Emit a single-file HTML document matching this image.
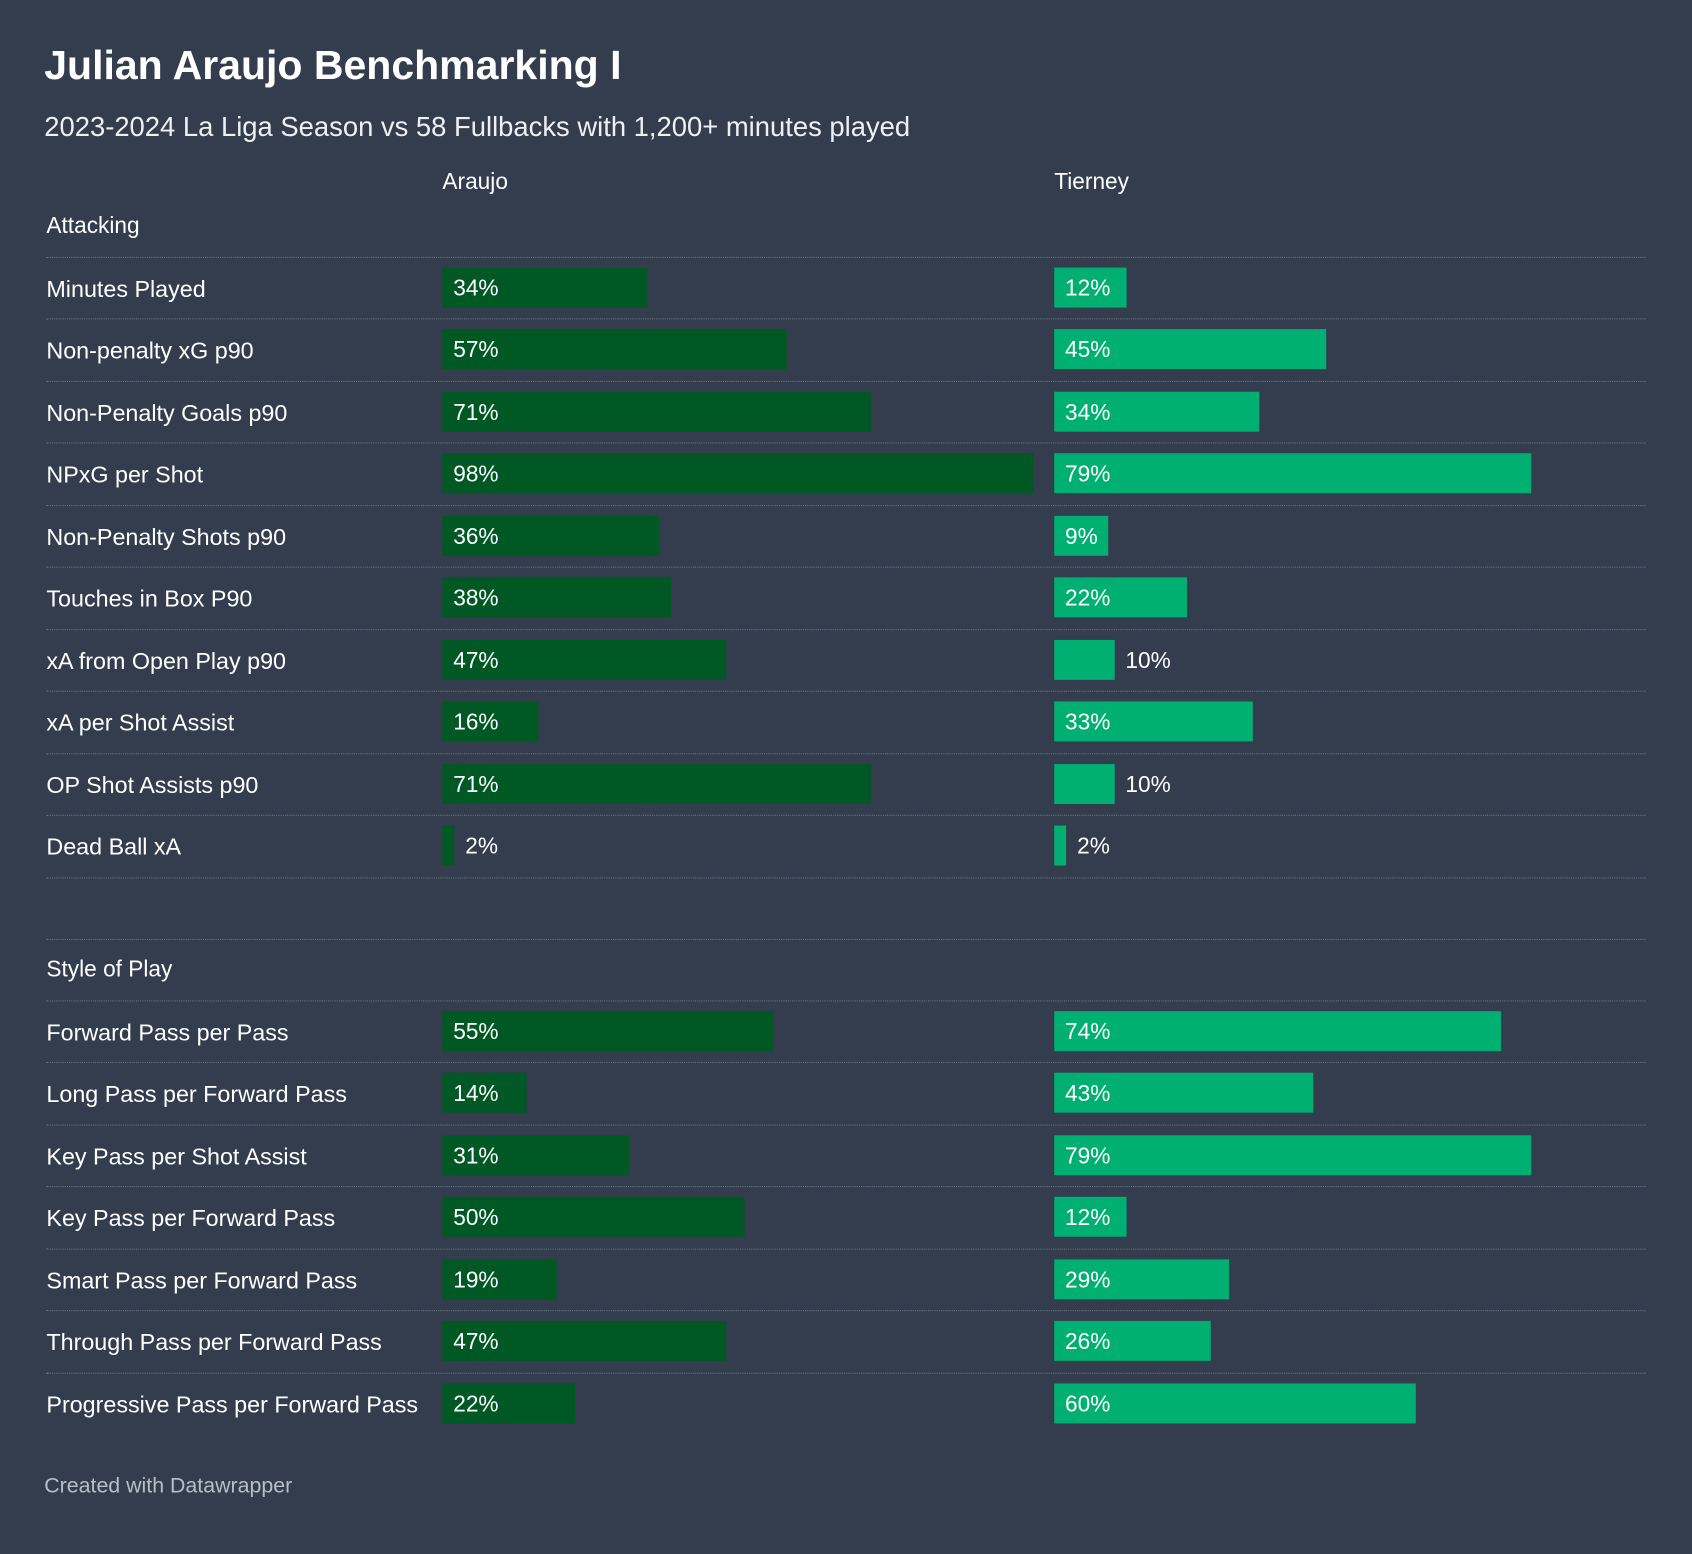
<!DOCTYPE html>
<html><head><meta charset="utf-8"><style>
html,body{margin:0;padding:0;background:#333d4e;width:1692px;height:1554px;overflow:hidden}
#wrap{position:absolute;left:0;top:0;width:1568px;height:1440px;transform:scale(1.07908,1.07917);transform-origin:0 0;font-family:"Liberation Sans",sans-serif;color:#fff}
.t{position:absolute;white-space:nowrap}
.line{position:absolute;left:43px;width:1482px;height:0;border-top:1px dotted #6b7586}
.bar{position:absolute;height:37px}
</style></head><body>
<div id="wrap">
<div class="t" style="left:41px;top:40px;font-size:38px;font-weight:bold">Julian Araujo Benchmarking I</div>
<div class="t" style="left:41px;top:104px;font-size:25.4px;color:#eef0f3">2023-2024 La Liga Season vs 58 Fullbacks with 1,200+ minutes played</div>
<div class="t" style="left:410px;top:157px;font-size:21px">Araujo</div>
<div class="t" style="left:977px;top:157px;font-size:21px">Tierney</div>
<div class="t" style="left:41px;top:1366px;font-size:19.8px;color:#b8bec8">Created with Datawrapper</div>
<div id="rows"></div>
</div>
<script>
const sec1Labels=["Minutes Played","Non-penalty xG p90","Non-Penalty Goals p90","NPxG per Shot","Non-Penalty Shots p90","Touches in Box P90","xA from Open Play p90","xA per Shot Assist","OP Shot Assists p90","Dead Ball xA"];
const sec1Araujo=[34,57,71,98,36,38,47,16,71,2];
const sec1Tierney=[12,45,34,79,9,22,10,33,10,2];
const sec2Labels=["Forward Pass per Pass","Long Pass per Forward Pass","Key Pass per Shot Assist","Key Pass per Forward Pass","Smart Pass per Forward Pass","Through Pass per Forward Pass","Progressive Pass per Forward Pass"];
const sec2Araujo=[55,14,31,50,19,47,22];
const sec2Tierney=[74,43,79,12,29,26,60];
const W=559, rowH=57.45;
const root=document.getElementById('rows');
function x(v){return v/100*W;}
function add(html){const d=document.createElement('div');d.innerHTML=html;const e=d.firstChild;root.appendChild(e);return e;}
function line(y){const e=add('<div class="line"></div>');e.style.top=y+'px';

}
function bar(x0,v,y,color,name){
 const b=add('<div class="bar"></div>');b.style.left=x0+'px';b.style.top=(y+10)+'px';b.style.width=x(v)+'px';b.style.background=color;
 
 
 const t=add('<div class="t"></div>');t.textContent=v+'%';t.style.fontSize='21px';t.style.top=(y+18)+'px';
 const inside=(String(v).length===1)?x(v)>=45:x(v)>=62;
 t.style.left=(inside?x0+10:x0+x(v)+10)+'px';
 
 
}
function section(title,top,labels,a,tr){
 const h=add('<div class="t"></div>');h.textContent=title;h.style.left='43px';h.style.top=(top-40)+'px';h.style.fontSize='21px';
 
 
 line(top);
 labels.forEach((l,i)=>{
  const y=top+i*rowH;
  const lab=add('<div class="t"></div>');lab.textContent=l;lab.style.left='43px';lab.style.top=(y+17)+'px';lab.style.fontSize='21.6px';
  
  
  bar(410,a[i],y,'#005824','araujo');
  bar(977,tr[i],y,'#00b073','tierney');
  if(i<labels.length-1||title==="Attacking")line(y+rowH);
 });
}
section("Attacking",238,sec1Labels,sec1Araujo,sec1Tierney);
section("Style of Play",927,sec2Labels,sec2Araujo,sec2Tierney);
line(870);
</script>
</body></html>
